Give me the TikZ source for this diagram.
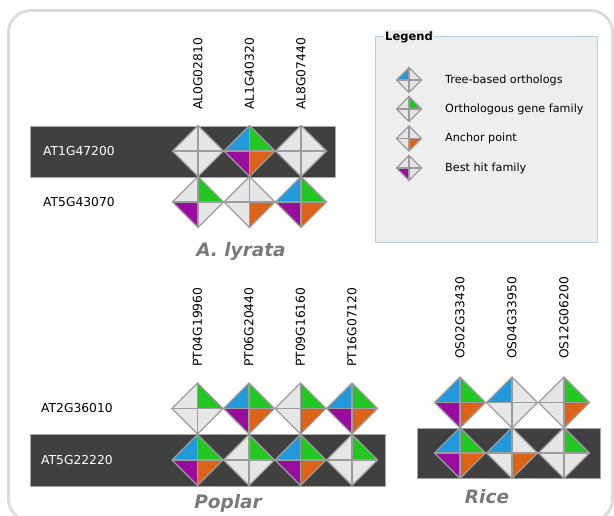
\documentclass[tikz,border=0pt]{standalone}
\usepackage{fontspec}
\setmainfont{DejaVu Sans}[ItalicFont={DejaVu Sans Oblique}, BoldFont={DejaVu Sans Bold}, BoldItalicFont={DejaVu Sans Bold Oblique}]
\usetikzlibrary{positioning}

\definecolor{treeblue}{HTML}{2299DB}
\definecolor{famgreen}{HTML}{22C722}
\definecolor{anchororange}{HTML}{DB6418}
\definecolor{besthitpurple}{HTML}{990D9E}
\definecolor{nocol}{HTML}{E6E6E6}
\definecolor{cellline}{HTML}{9C9C9C}
\definecolor{bandgray}{HTML}{404040}
\definecolor{framegray}{HTML}{DCDCDC}
\definecolor{legfill}{HTML}{EEEEEE}
\definecolor{legborder}{HTML}{BACFE3}
\definecolor{specgray}{HTML}{7A7A7A}

% one cell: x, y, half size, top-left, top-right, bottom-right, bottom-left
\newcommand{\orthcell}[7]{%
  \fill[#4] (#1,#2) -- ++(-#3,0) -- ++(#3,-#3) -- cycle;
  \fill[#5] (#1,#2) -- ++(0,-#3) -- ++(#3,#3) -- cycle;
  \fill[#6] (#1,#2) -- ++(#3,0) -- ++(-#3,#3) -- cycle;
  \fill[#7] (#1,#2) -- ++(0,#3) -- ++(-#3,-#3) -- cycle;
  \draw[cellline, line width=1.1pt, line join=miter] (#1,#2) ++(-#3,0) -- ++(#3,-#3) -- ++(#3,#3) -- ++(-#3,#3) -- cycle;
  \draw[cellline, line width=1.1pt] (#1,#2) ++(-#3,0) -- ++(2*#3,0);
  \draw[cellline, line width=1.1pt] (#1,#2) ++(0,-#3) -- ++(0,2*#3);
}

\begin{document}
\begin{tikzpicture}[x=1pt, y=-1pt,
  gene/.style={inner sep=0pt, font=\fontsize{12.3}{14}\selectfont},
  colgene/.style={gene, rotate=90, anchor=west},
  rowgene/.style={gene, anchor=west},
  species/.style={inner sep=0pt, text=specgray, font=\fontsize{18.5}{20}\selectfont\bfseries\itshape},
  legtext/.style={inner sep=0pt, anchor=west, font=\fontsize{11.2}{13}\selectfont},
  band/.style={fill=bandgray, draw=gray!70, line width=0.6pt}]
  \useasboundingbox (0,0) rectangle (614,516);
  % Frame
  \draw[framegray, line width=3pt, rounded corners=22pt] (8.5,10.5) rectangle (612.5,521);

  % Bands
  \draw[band] (30,126) rectangle (335,177);
  \draw[band] (30,434.5) rectangle (385,486);
  \draw[band] (417,428) rectangle (600,478);

  % A. lyrata
  \node[colgene] (AL0G02810) at (198,110) {AL0G02810};
  \node[colgene] (AL1G40320) at (249.5,110) {AL1G40320};
  \node[colgene] (AL8G07440) at (301,110) {AL8G07440};
  \node[rowgene, text=white] (AT1G47200) at (43,151) {AT1G47200};
  \node[rowgene] (AT5G43070) at (43,202) {AT5G43070};
  \foreach \cx/\cy/\tl/\tr/\br/\bl in {
    198/151/nocol/nocol/nocol/nocol,
    249.5/151/treeblue/famgreen/anchororange/besthitpurple,
    301/151/nocol/nocol/nocol/nocol,
    198/202/nocol/famgreen/nocol/besthitpurple,
    249.5/202/nocol/nocol/anchororange/nocol,
    301/202/treeblue/famgreen/anchororange/besthitpurple}
    \orthcell{\cx}{\cy}{25.5}{\tl}{\tr}{\br}{\bl};
  \node[species] (lyrata) at (241,251) {A. lyrata};

  % Poplar
  \node[colgene] (PT04G19960) at (197.5,367) {PT04G19960};
  \node[colgene] (PT06G20440) at (249,367) {PT06G20440};
  \node[colgene] (PT09G16160) at (300.5,367) {PT09G16160};
  \node[colgene] (PT16G07120) at (352,367) {PT16G07120};
  \node[rowgene] (AT2G36010) at (41,408.5) {AT2G36010};
  \node[rowgene, text=white] (AT5G22220) at (41,460) {AT5G22220};
  \foreach \cx/\cy/\tl/\tr/\br/\bl in {
    197.5/408.5/nocol/famgreen/nocol/nocol,
    249/408.5/treeblue/famgreen/anchororange/besthitpurple,
    300.5/408.5/nocol/famgreen/anchororange/nocol,
    352/408.5/treeblue/famgreen/anchororange/besthitpurple,
    197.5/460/treeblue/famgreen/anchororange/besthitpurple,
    249/460/nocol/famgreen/nocol/nocol,
    300.5/460/treeblue/famgreen/anchororange/besthitpurple,
    352/460/nocol/famgreen/nocol/nocol}
    \orthcell{\cx}{\cy}{25.5}{\tl}{\tr}{\br}{\bl};
  \node[species] (poplar) at (228,503) {Poplar};

  % Rice
  \node[colgene] (OS02G33430) at (460,359) {OS02G33430};
  \node[colgene] (OS04G33950) at (512,359) {OS04G33950};
  \node[colgene] (OS12G06200) at (564,359) {OS12G06200};
  \foreach \cx/\cy/\tl/\tr/\br/\bl in {
    460/402.5/treeblue/famgreen/anchororange/besthitpurple,
    512/402.5/treeblue/nocol/nocol/nocol,
    564/402.5/nocol/famgreen/anchororange/nocol,
    460/453/treeblue/famgreen/anchororange/besthitpurple,
    512/453/treeblue/nocol/anchororange/nocol,
    564/453/nocol/famgreen/nocol/nocol}
    \orthcell{\cx}{\cy}{25.5}{\tl}{\tr}{\br}{\bl};
  \node[species] (rice) at (487,497) {Rice};

  % Legend
  \draw[legborder, fill=legfill, line width=0.8pt] (375,36) rectangle (597,242);
  \node[fill=legfill, inner sep=1pt, anchor=west, font=\fontsize{11.5}{13}\selectfont\bfseries] (legend) at (384,37) {Legend};
  \coordinate (lgtree) at (409,80);
  \coordinate (lgfam) at (409,109);
  \coordinate (lganchor) at (409,138.5);
  \coordinate (lgbest) at (409,168);
  \orthcell{409}{80}{12.5}{treeblue}{nocol}{nocol}{nocol}
  \orthcell{409}{109}{12.5}{nocol}{famgreen}{nocol}{nocol}
  \orthcell{409}{138.5}{12.5}{nocol}{nocol}{anchororange}{nocol}
  \orthcell{409}{168}{12.5}{nocol}{nocol}{nocol}{besthitpurple}
  \node[legtext, right=36pt of lgtree] (treetxt) {Tree-based orthologs};
  \node[legtext, right=36pt of lgfam] (famtxt) {Orthologous gene family};
  \node[legtext, right=36pt of lganchor] (anchortxt) {Anchor point};
  \node[legtext, right=36pt of lgbest] (besttxt) {Best hit family};
\end{tikzpicture}
\end{document}
